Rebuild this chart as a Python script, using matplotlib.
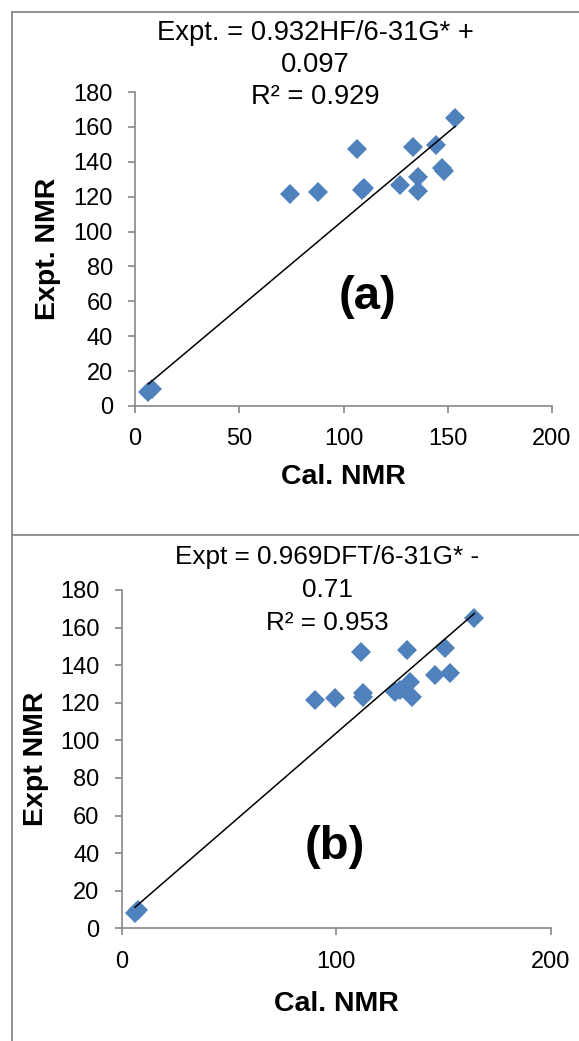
import numpy as np
import matplotlib
matplotlib.use("Agg")
import matplotlib.pyplot as plt
from matplotlib.lines import Line2D

plt.rcParams['font.family'] = ['Liberation Sans', 'DejaVu Sans']

# Panel (a): HF/6-31G*
cal_a = [74.3, 87.9, 106.7, 109.0, 110.0, 133.2, 144.6, 153.5, 127.1, 135.9, 135.9, 147.1, 148.3, 6.4, 8.0]
exp_a = [121.6, 122.7, 147.2, 123.9, 125.0, 148.2, 149.5, 165.3, 126.7, 131.5, 123.2, 136.3, 134.7, 8.2, 9.5]
trend_a = [1.004, 6.17]   # drawn trendline (slope, intercept)
eq_a = "Expt. = 0.932HF/6-31G* +\n0.097\nR² = 0.929"

# Panel (b): DFT/6-31G*
cal_b = [90.1, 99.5, 111.4, 112.6, 112.6, 132.8, 150.7, 164.3, 146.0, 153.0, 134.3, 135.1, 127.3, 129.7, 6.2, 7.7]
exp_b = [121.4, 122.7, 147.1, 125.0, 123.0, 148.0, 148.9, 164.9, 134.7, 135.6, 131.2, 123.2, 125.9, 126.8, 8.0, 9.7]
trend_b = [0.9886, 5.07]
eq_b = "Expt = 0.969DFT/6-31G* -\n0.71\nR² = 0.953"

yticks = [0, 20, 40, 60, 80, 100, 120, 140, 160, 180]
xticks_a = [0, 50, 100, 150, 200]
xticks_b = [0, 100, 200]

W, H = 579, 1041
fig = plt.figure(figsize=(W / 100, H / 100), dpi=100)

gray = '#888888'
blue = '#4F81BD'


def style(ax, xticks):
    ax.set_xlim(0, 200)
    ax.set_ylim(0, 180)
    ax.set_xticks(xticks)
    ax.set_yticks(yticks)
    for s in ['top', 'right']:
        ax.spines[s].set_visible(False)
    for s in ['left', 'bottom']:
        ax.spines[s].set_color(gray)
        ax.spines[s].set_linewidth(1.2)
    ax.tick_params(axis='both', direction='out', length=5, width=1.2, color=gray,
                   labelsize=17, pad=11)
    ax.patch.set_alpha(0)


def panel(rect, cal, exp, trend, xticks, eq, eq_xy, eq_fs, eq_ls, tag, tag_xy,
          ylabel, xlpad, ylpad):
    ax = fig.add_axes(rect)
    style(ax, xticks)
    ax.plot(cal, exp, linestyle='none', marker='D', markersize=10,
            color=blue, markeredgewidth=0, zorder=3, clip_on=False)
    xs = np.array([min(cal), max(cal)])
    ax.plot(xs, trend[0] * xs + trend[1], color='black', linewidth=1.1, zorder=4)
    ax.set_xlabel('Cal. NMR', fontsize=20.5, fontweight='bold', labelpad=xlpad)
    ax.set_ylabel(ylabel, fontsize=20.5, fontweight='bold', labelpad=ylpad)
    fig.text(eq_xy[0] / W, 1 - eq_xy[1] / H, eq, ha='center', va='center',
             fontsize=eq_fs, linespacing=eq_ls)
    ax.text(tag_xy[0], tag_xy[1], tag, ha='center', va='center',
            fontsize=34, fontweight='bold')
    return ax


axa = panel([135 / W, 1 - 406 / H, (552 - 135) / W, (406 - 92) / H],
            cal_a, exp_a, trend_a, xticks_a, eq_a, (315, 65), 19.7, 1.28,
            '(a)', (111.7, 62.5), 'Expt. NMR', 10, 9)
axb = panel([121.7 / W, 1 - 928.3 / H, (551 - 121.7) / W, (928.3 - 590) / H],
            cal_b, exp_b, trend_b, xticks_b, eq_b, (327, 590), 18.8, 1.45,
            '(b)', (99.4, 43.4), 'Expt NMR', 13, 8)

# Panel borders
def fline(x0, y0, x1, y1):
    fig.add_artist(Line2D([x0 / W, x1 / W], [1 - y0 / H, 1 - y1 / H],
                          color=gray, linewidth=1.3, transform=fig.transFigure))

fline(12, 12, W, 12)
fline(12, 12, 12, 535)
fline(12, 535, W, 535)
fline(12, 535, 12, H)

fig.savefig('out.png', dpi=100)
